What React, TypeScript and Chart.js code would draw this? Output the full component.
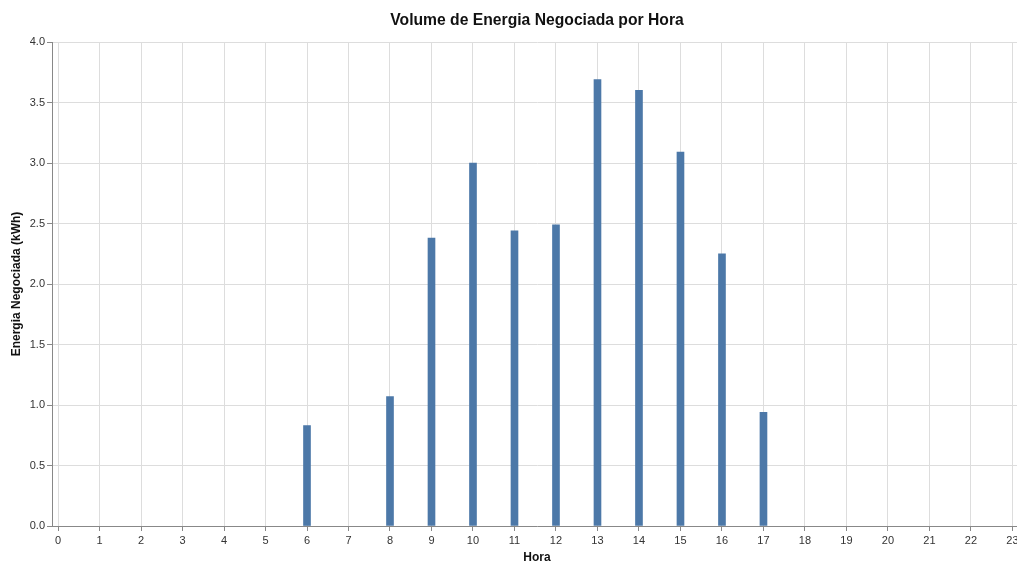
import React, { useEffect, useRef } from "react";
import { Chart, registerables } from "chart.js";

Chart.register(...registerables);

const chartTitle = "Volume de Energia Negociada por Hora";
const xTitle = "Hora";
const yTitle = "Energia Negociada (kWh)";
const hours = [6, 8, 9, 10, 11, 12, 13, 14, 15, 16, 17];
const energy = [0.83, 1.07, 2.38, 3.0, 2.44, 2.49, 3.69, 3.6, 3.09, 2.25, 0.94];
const yTicks = [0, 0.5, 1, 1.5, 2, 2.5, 3, 3.5, 4];
const xTicks = [0, 1, 2, 3, 4, 5, 6, 7, 8, 9, 10, 11, 12, 13, 14, 15, 16, 17, 18, 19, 20, 21, 22, 23];

const FONT = "'Liberation Sans', Arial, sans-serif";

// Title centred over the plot area (as Vega-Lite does), not over the whole canvas.
const plotTitlePlugin = {
  id: "plotTitle",
  afterDraw(chart: any) {
    const { ctx, chartArea } = chart;
    ctx.save();
    ctx.font = `bold 15.7px ${FONT}`;
    ctx.fillStyle = "#111";
    ctx.textAlign = "center";
    ctx.textBaseline = "middle";
    ctx.fillText(chartTitle, (chartArea.left + chartArea.right) / 2, 21);
    ctx.restore();
  },
};

export default function App() {
  const ref = useRef<HTMLCanvasElement | null>(null);

  useEffect(() => {
    if (!ref.current) return;
    const chart = new Chart(ref.current, {
      type: "bar",
      data: {
        datasets: [
          {
            label: yTitle,
            data: hours.map((h, i) => ({ x: h, y: energy[i] })),
            backgroundColor: "#4c78a8",
            borderWidth: 0,
            barThickness: 7,
          },
        ],
      },
      plugins: [plotTitlePlugin],
      options: {
        responsive: false,
        animation: false,
        layout: { padding: { left: 9, right: 18, top: 42, bottom: 0 } },
        plugins: {
          legend: { display: false },
          tooltip: { enabled: false },
          title: { display: false },
        },
        scales: {
          x: {
            type: "linear",
            min: -0.145,
            max: 23.23,
            offset: false,
            grid: {
              offset: false,
              color: "#dddddd",
              tickColor: "#888888",
              tickLength: 5,
            },
            border: { color: "#888888", width: 1 },
            afterBuildTicks: (s: any) => {
              s.ticks = xTicks.map((v) => ({ value: v }));
            },
            ticks: {
              autoSkip: false,
              maxRotation: 0,
              padding: 3,
              color: "#333",
              font: { family: FONT, size: 11 },
            },
            title: {
              display: true,
              text: xTitle,
              color: "#111",
              font: { family: FONT, size: 12, weight: "bold" },
              padding: { top: 0, bottom: 0 },
            },
            afterFit: (s: any) => {
              s.height = 39;
            },
          },
          y: {
            type: "linear",
            min: 0,
            max: 4,
            grid: {
              color: "#dddddd",
              tickColor: "#888888",
              tickLength: 5,
            },
            border: { color: "#888888", width: 1 },
            afterBuildTicks: (s: any) => {
              s.ticks = yTicks.map((v) => ({ value: v }));
            },
            ticks: {
              padding: 2,
              color: "#333",
              font: { family: FONT, size: 11 },
              callback: (v: any) => Number(v).toFixed(1),
            },
            title: {
              display: true,
              text: yTitle,
              color: "#111",
              font: { family: FONT, size: 12, weight: "bold" },
              padding: { top: 0, bottom: 0 },
            },
            afterFit: (s: any) => {
              s.width = 43;
            },
          },
        },
      },
    });
    return () => chart.destroy();
  }, []);

  return (
    <div
      style={{
        position: "fixed",
        left: 0,
        top: 0,
        width: 1017,
        height: 565,
        overflow: "hidden",
        background: "#fff",
      }}
    >
      <canvas ref={ref} width={1040} height={565} style={{ display: "block" }} />
    </div>
  );
}
